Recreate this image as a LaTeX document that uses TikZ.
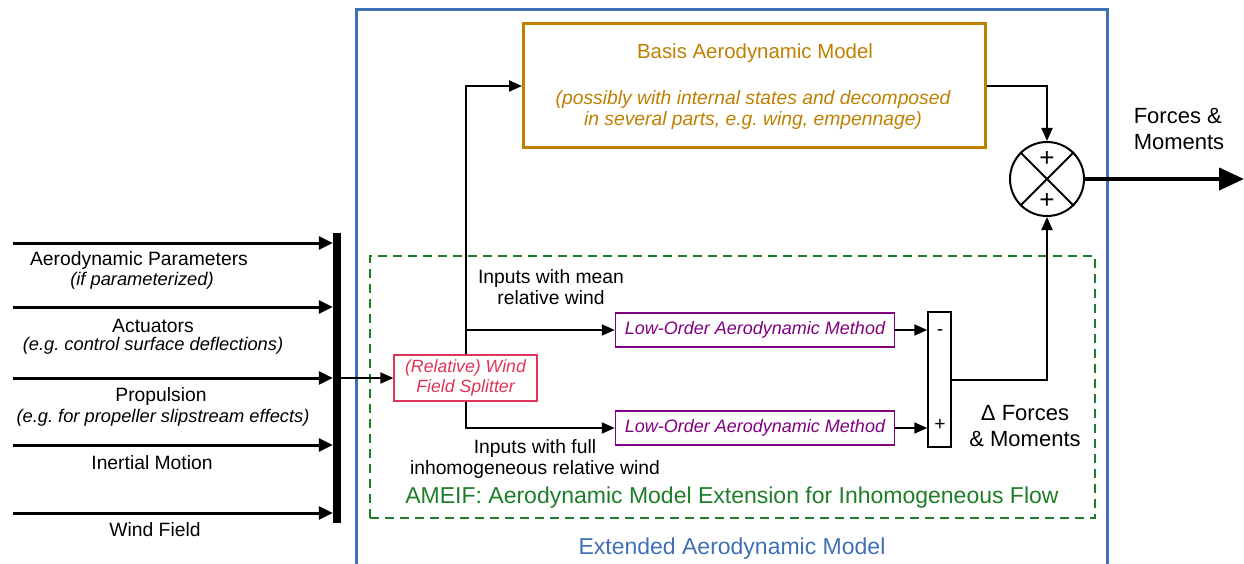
\documentclass[tikz,border=0pt]{standalone}
\usepackage{fontspec}
\setmainfont{Liberation Sans}
\usetikzlibrary{arrows.meta}
\frenchspacing
\definecolor{extblue}{RGB}{63,111,181}
\definecolor{basisor}{RGB}{191,128,0}
\definecolor{splred}{RGB}{222,52,88}
\definecolor{lopurp}{RGB}{128,0,128}
\definecolor{amgreen}{RGB}{30,125,40}
\begin{document}
\begin{tikzpicture}[x=1pt,y=-1pt,
  lbl/.style={font=\fontsize{19.3}{21}\selectfont, align=center, inner sep=0pt},
  sublbl/.style={font=\fontsize{18.3}{20}\selectfont\itshape, align=center, inner sep=0pt},
  biglbl/.style={font=\fontsize{22}{26}\selectfont, align=center, inner sep=0pt},
  basisbox/.style={draw=basisor, line width=3pt, minimum width=462pt, minimum height=124pt, inner sep=0pt},
  splitbox/.style={draw=splred, line width=1.2pt, text=splred, font=\fontsize{17.7}{20}\selectfont\itshape, align=center, minimum width=143pt, minimum height=46pt, inner sep=0pt},
  lobox/.style={draw=lopurp, line width=1.5pt, text=lopurp, font=\fontsize{18}{20}\selectfont\itshape, minimum width=279pt, minimum height=34pt, inner sep=0pt},
  sumbox/.style={draw, line width=1.5pt, minimum width=23pt, minimum height=135pt, inner sep=0pt},
  arr/.style={line width=2pt, -{Triangle[length=13pt,width=11pt]}},
  inarr/.style={line width=3pt, -{Triangle[length=14pt,width=13pt]}},
  bigarr/.style={line width=4pt, -{Triangle[length=25pt,width=22pt]}},
  pluslbl/.style={font=\fontsize{26}{26}\selectfont, inner sep=0pt}
]
\useasboundingbox (0,0) rectangle (1244,564);

% outer extended model box (open at bottom)
\node[draw=extblue, line width=3pt, minimum width=751pt, minimum height=570pt, inner sep=0pt] (ext) at (731.5,295) {};
\node[inner sep=0pt, text=extblue, font=\fontsize{23}{26}\selectfont] (extlbl) at (732,549) {Extended Aerodynamic Model};

% AMEIF dashed box
\node[draw=amgreen, line width=2.5pt, dash pattern=on 9pt off 6pt, minimum width=725pt, minimum height=262pt, inner sep=0pt] (ameif) at (732.5,387) {};
\node[inner sep=0pt, text=amgreen, font=\fontsize{23}{26}\selectfont] (ameiflbl) at (732,498) {AMEIF: Aerodynamic Model Extension for Inhomogeneous Flow};

% basis model
\node[basisbox] (basis) at (754.5,86) {};
\node[inner sep=0pt, text=basisor, font=\fontsize{20.4}{24}\selectfont] (basist) at (755,53) {Basis Aerodynamic Model};
\node[inner sep=0pt, text=basisor, font=\fontsize{19.3}{21.5}\selectfont\itshape, align=center] (basiss) at (753,110) {(possibly with internal states and decomposed\\in several parts, e.g. wing, empennage)};

% input bar
\node[fill=black, minimum width=8pt, minimum height=290pt, inner sep=0pt] (bar) at (337,378) {};

% inputs
\coordinate (i1) at (13,243);
\coordinate (i2) at (13,307);
\coordinate (i3) at (13,378);
\coordinate (i4) at (13,445);
\coordinate (i5) at (13,513);
\foreach \c in {i1,i2,i3,i4,i5} \draw[inarr] (\c) -- (bar.west |- \c);

\node[lbl] (l1) at (139,261) {Aerodynamic Parameters};
\node[sublbl] (s1) at (142,281) {(if parameterized)};
\node[lbl] (l2) at (153,326) {Actuators};
\node[sublbl] (s2) at (153,346) {(e.g. control surface deflections)};
\node[lbl] (l3) at (161,397) {Propulsion};
\node[sublbl] (s3) at (163,418) {(e.g. for propeller slipstream effects)};
\node[lbl] (l4) at (152,463) {Inertial Motion};
\node[lbl] (l5) at (155,530) {Wind Field};

% splitter
\node[splitbox] (split) at (465.5,378) {(Relative) Wind\\Field Splitter};
\draw[arr] (bar.east) -- (split.west);

% low order methods
\node[lobox] (lo1) at (755,330) {Low-Order Aerodynamic Method};
\node[lobox] (lo2) at (755,428) {Low-Order Aerodynamic Method};

\draw[arr] (split.north) |- (basis.west);
\draw[arr] (split.north) |- (lo1.west);
\draw[arr] (split.south) |- (lo2.west);

\node[lbl] (mean) at (551,287.5) {Inputs with mean\\relative wind};
\node[lbl] (full) at (535,459) {Inputs with full\\inhomogeneous relative wind};

% difference box
\node[sumbox] (sb) at (939.5,379.5) {};
\node[lbl] (minus) at (940,333) {-};
\node[lbl] (plus) at (940,425) {+};
\draw[arr] (lo1.east) -- (sb.west |- lo1.east);
\draw[arr] (lo2.east) -- (sb.west |- lo2.east);

\node[biglbl] (dfm) at (1025,426) {Δ Forces\\\& Moments};

% summation
\node[draw, circle, line width=2pt, minimum size=74pt, inner sep=0pt] (circ) at (1047,179) {};
\draw[line width=2pt] (circ.north west) -- (circ.south east);
\draw[line width=2pt] (circ.north east) -- (circ.south west);
\node[pluslbl] (cp1) at (1047,159) {+};
\node[pluslbl] (cp2) at (1047,201) {+};

\draw[arr] (basis.east) -| (circ.north);
\draw[arr] (sb.east) -| (circ.south);

\coordinate (out) at (1244,179);
\draw[bigarr] (circ.east) -- (out);
\node[biglbl, align=left] (fm) at (1179,129) {Forces \&\\Moments};
\end{tikzpicture}
\end{document}
